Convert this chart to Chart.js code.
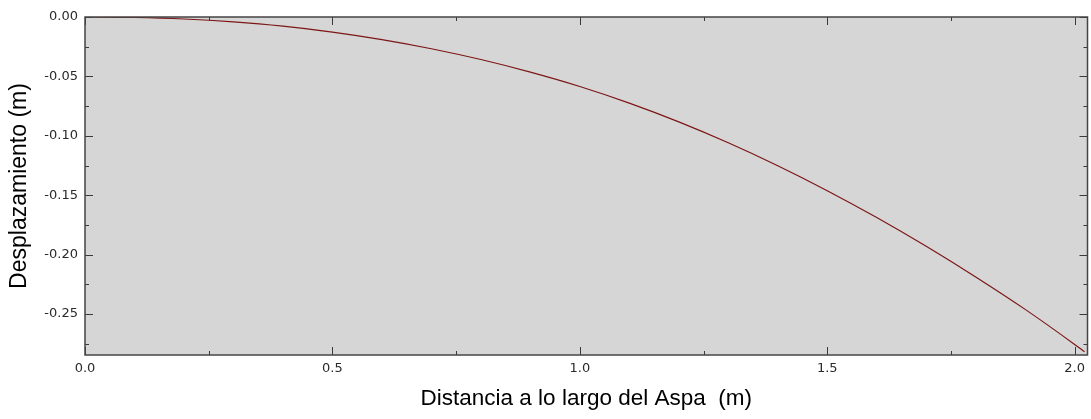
<!DOCTYPE html>
<html>
<head>
<meta charset="utf-8">
<script src="https://cdn.jsdelivr.net/npm/chart.js@4/dist/chart.umd.min.js"></script>
<style>
    html, body { margin: 0; padding: 0; background: #fff; }
    #wrap { width: 1091px; height: 419px; position: relative; }
</style>
</head>
<body>
<div id="wrap"><canvas id="deflexion"></canvas></div>
<script>
// Datos (distancia en m, desplazamiento en m)
const distancia = [0, 0.1, 0.2, 0.3, 0.4, 0.5, 0.6, 0.7, 0.8, 0.9, 1.0,
    1.1, 1.2, 1.3, 1.4, 1.5, 1.6, 1.7, 1.8, 1.9, 2.0, 2.02];
const desplazamiento = [0, -0.0004, -0.0017, -0.0041, -0.0077, -0.0127, -0.0190, -0.0267,
    -0.0358, -0.0464, -0.0585, -0.0725, -0.0883, -0.1059, -0.1252, -0.1462, -0.1688,
    -0.1930, -0.2188, -0.2461, -0.2756, -0.2818];

const xMin = 0, xMax = 2.026, xStep = 0.5;
const yMin = -0.2845, yMax = 0, yStep = 0.05;

// fondo gris del area del grafico
const fondoArea = {
    id: 'fondoArea',
    beforeDraw(chart) {
        const { ctx, chartArea: a } = chart;
        ctx.save();
        ctx.fillStyle = '#d6d6d6';
        ctx.fillRect(a.left, a.top, a.right - a.left, a.bottom - a.top);
        ctx.restore();
    }
};

// marco y marcas hacia adentro en los cuatro lados
const marcoTicks = {
    id: 'marcoTicks',
    afterDraw(chart) {
        const { ctx, chartArea: a, scales } = chart;
        const x = scales.x, y = scales.y;
        ctx.save();
        ctx.strokeStyle = '#3a3a3a';
        ctx.lineWidth = 1;
        ctx.beginPath();

        x.ticks.forEach(t => {
            const v = t.value;
            const px = Math.round(x.getPixelForValue(v)) + 0.5;
            ctx.moveTo(px, a.bottom); ctx.lineTo(px, a.bottom - 8);
            ctx.moveTo(px, a.top); ctx.lineTo(px, a.top + 8);
            const m = v + xStep / 2;
            if (m < xMax) {
                const pm = Math.round(x.getPixelForValue(m)) + 0.5;
                ctx.moveTo(pm, a.bottom); ctx.lineTo(pm, a.bottom - 4);
                ctx.moveTo(pm, a.top); ctx.lineTo(pm, a.top + 4);
            }
        });

        y.ticks.forEach(t => {
            const v = t.value;
            const py = Math.round(y.getPixelForValue(v)) + 0.5;
            ctx.moveTo(a.left, py); ctx.lineTo(a.left + 8, py);
            ctx.moveTo(a.right, py); ctx.lineTo(a.right - 8, py);
            const m = v - yStep / 2;
            if (m > yMin) {
                const pm = Math.round(y.getPixelForValue(m)) + 0.5;
                ctx.moveTo(a.left, pm); ctx.lineTo(a.left + 4, pm);
                ctx.moveTo(a.right, pm); ctx.lineTo(a.right - 4, pm);
            }
        });
        ctx.stroke();

        ctx.lineWidth = 1.5;
        ctx.strokeStyle = '#444';
        ctx.strokeRect(a.left, a.top, a.right - a.left, a.bottom - a.top);
        ctx.restore();
    }
};

const ctx = document.getElementById('deflexion').getContext('2d');

new Chart(ctx, {
    type: 'scatter',
    data: {
        datasets: [{
            label: 'Desplazamiento',
            data: distancia.map((d, i) => ({ x: d, y: desplazamiento[i] })),
            showLine: true,
            borderColor: '#7d1616',
            borderWidth: 1.2,
            pointRadius: 0,
            cubicInterpolationMode: 'monotone'
        }]
    },
    options: {
        responsive: true,
        maintainAspectRatio: false,
        animation: false,
        layout: { padding: { top: 17, right: 1, left: 0, bottom: 0 } },
        plugins: {
            legend: { display: false },
            tooltip: { enabled: false }
        },
        scales: {
            x: {
                type: 'linear',
                min: xMin,
                max: xMax,
                afterFit: s => { s.height = 64; },
                grid: { display: false, drawTicks: false },
                border: { display: false },
                ticks: {
                    stepSize: xStep,
                    includeBounds: false,
                    padding: 6,
                    color: '#2a2a2a',
                    font: { family: 'DejaVu Sans', size: 13 },
                    callback: v => v.toFixed(1)
                },
                title: {
                    display: true,
                    text: 'Distancia a lo largo del Aspa  (m)',
                    color: '#000',
                    font: { family: 'Liberation Sans', size: 22.5 },
                    padding: { top: 0, bottom: 7 }
                }
            },
            y: {
                type: 'linear',
                min: yMin,
                max: yMax,
                afterFit: s => { s.width = 85; },
                grid: { display: false, drawTicks: false },
                border: { display: false },
                ticks: {
                    stepSize: yStep,
                    includeBounds: false,
                    padding: 7,
                    color: '#2a2a2a',
                    font: { family: 'DejaVu Sans', size: 13 },
                    callback: v => v.toFixed(2)
                },
                title: {
                    display: true,
                    text: 'Desplazamiento (m)',
                    color: '#000',
                    font: { family: 'Liberation Sans', size: 23 },
                    padding: { top: 6, bottom: 0 }
                }
            }
        }
    },
    plugins: [fondoArea, marcoTicks]
});
</script>
</body>
</html>
